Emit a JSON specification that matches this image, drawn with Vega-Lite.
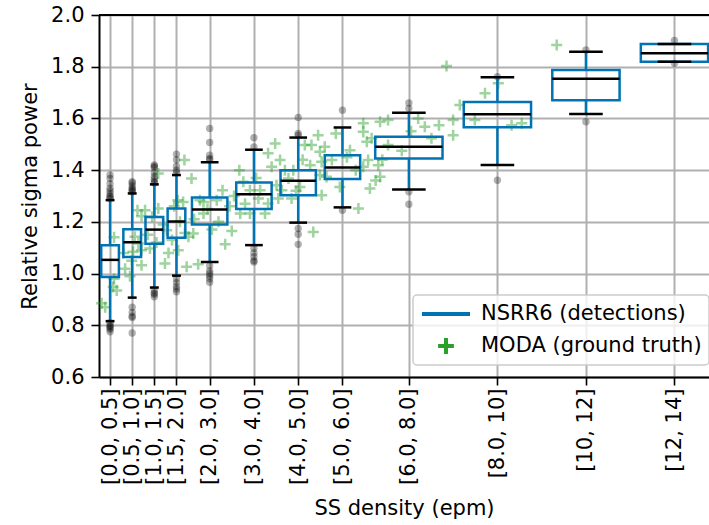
{
  "$schema": "https://vega.github.io/schema/vega-lite/v6.json",
  "width": 610,
  "height": 362,
  "autosize": {"type": "none"},
  "padding": {"left": 99, "top": 15, "right": 0, "bottom": 148},
  "background": "white",
  "config": {
    "font": "DejaVu Sans",
    "view": {"stroke": null},
    "axis": {
      "labelFont": "DejaVu Sans", "titleFont": "DejaVu Sans",
      "labelFontSize": 21, "titleFontSize": 21, "titleFontWeight": "normal",
      "labelColor": "black", "titleColor": "black",
      "domainColor": "black", "domainWidth": 2,
      "tickColor": "black", "tickWidth": 1.6, "tickSize": 8,
      "gridColor": "#b0b0b0", "gridWidth": 2, "gridOpacity": 1,
      "labelPadding": 6
    },
    "legend": {
      "orient": "none", "legendX": 314, "legendY": 280,
      "padding": 7, "fillColor": "rgba(255,255,255,0.8)", "strokeColor": "#cccccc",
      "strokeWidth": 1.5, "cornerRadius": 4,
      "labelFont": "DejaVu Sans", "labelFontSize": 21, "labelColor": "black", "labelLimit": 0,
      "symbolSize": 2304, "symbolStrokeWidth": 4, "symbolOpacity": 1,
      "clipHeight": 24, "rowPadding": 8, "labelOffset": 9
    }
  },
  "datasets": {
    "boxes": [
      {"bin": "[0.0, 0.5]", "density": 0.25, "binwidth": 0.5, "lo": 0.816, "q1": 0.987, "med": 1.053, "q3": 1.110, "hi": 1.284},
      {"bin": "[0.5, 1.0]", "density": 0.75, "binwidth": 0.5, "lo": 0.907, "q1": 1.064, "med": 1.121, "q3": 1.171, "hi": 1.310},
      {"bin": "[1.0, 1.5]", "density": 1.25, "binwidth": 0.5, "lo": 0.946, "q1": 1.115, "med": 1.170, "q3": 1.219, "hi": 1.345},
      {"bin": "[1.5, 2.0]", "density": 1.75, "binwidth": 0.5, "lo": 0.992, "q1": 1.139, "med": 1.201, "q3": 1.252, "hi": 1.381},
      {"bin": "[2.0, 3.0]", "density": 2.5, "binwidth": 1, "lo": 1.045, "q1": 1.190, "med": 1.248, "q3": 1.294, "hi": 1.431},
      {"bin": "[3.0, 4.0]", "density": 3.5, "binwidth": 1, "lo": 1.110, "q1": 1.250, "med": 1.307, "q3": 1.352, "hi": 1.479},
      {"bin": "[4.0, 5.0]", "density": 4.5, "binwidth": 1, "lo": 1.197, "q1": 1.303, "med": 1.359, "q3": 1.400, "hi": 1.526},
      {"bin": "[5.0, 6.0]", "density": 5.5, "binwidth": 1, "lo": 1.256, "q1": 1.366, "med": 1.410, "q3": 1.458, "hi": 1.565},
      {"bin": "[6.0, 8.0]", "density": 7, "binwidth": 2, "lo": 1.325, "q1": 1.445, "med": 1.490, "q3": 1.529, "hi": 1.622},
      {"bin": "[8.0, 10]", "density": 9, "binwidth": 2, "lo": 1.420, "q1": 1.566, "med": 1.616, "q3": 1.664, "hi": 1.759},
      {"bin": "[10, 12]", "density": 11, "binwidth": 2, "lo": 1.617, "q1": 1.670, "med": 1.753, "q3": 1.787, "hi": 1.858},
      {"bin": "[12, 14]", "density": 13, "binwidth": 2, "lo": 1.819, "q1": 1.819, "med": 1.852, "q3": 1.888, "hi": 1.888}
    ],
    "outliers": [
      {"density": 0.25, "power": 1.381}, {"density": 0.25, "power": 1.368}, {"density": 0.25, "power": 1.348}, {"density": 0.25, "power": 1.33}, {"density": 0.25, "power": 1.32}, {"density": 0.25, "power": 1.31}, {"density": 0.25, "power": 1.30}, {"density": 0.25, "power": 1.295}, {"density": 0.25, "power": 1.29},
      {"density": 0.25, "power": 0.81}, {"density": 0.25, "power": 0.80}, {"density": 0.25, "power": 0.795}, {"density": 0.25, "power": 0.79}, {"density": 0.25, "power": 0.785}, {"density": 0.25, "power": 0.775},
      {"density": 0.75, "power": 1.355}, {"density": 0.75, "power": 1.35}, {"density": 0.75, "power": 1.34}, {"density": 0.75, "power": 1.33}, {"density": 0.75, "power": 1.325}, {"density": 0.75, "power": 1.32}, {"density": 0.75, "power": 1.315},
      {"density": 0.75, "power": 0.87}, {"density": 0.75, "power": 0.85}, {"density": 0.75, "power": 0.835}, {"density": 0.75, "power": 0.83}, {"density": 0.75, "power": 0.77},
      {"density": 1.25, "power": 1.42}, {"density": 1.25, "power": 1.415}, {"density": 1.25, "power": 1.41}, {"density": 1.25, "power": 1.39}, {"density": 1.25, "power": 1.375}, {"density": 1.25, "power": 1.365}, {"density": 1.25, "power": 1.355}, {"density": 1.25, "power": 1.35},
      {"density": 1.25, "power": 0.935}, {"density": 1.25, "power": 0.925}, {"density": 1.25, "power": 0.92}, {"density": 1.25, "power": 0.91},
      {"density": 1.75, "power": 1.462}, {"density": 1.75, "power": 1.44}, {"density": 1.75, "power": 1.415}, {"density": 1.75, "power": 1.40}, {"density": 1.75, "power": 1.39},
      {"density": 1.75, "power": 0.98}, {"density": 1.75, "power": 0.965}, {"density": 1.75, "power": 0.95}, {"density": 1.75, "power": 0.94}, {"density": 1.75, "power": 0.93},
      {"density": 2.5, "power": 1.561}, {"density": 2.5, "power": 1.507}, {"density": 2.5, "power": 1.458}, {"density": 2.5, "power": 1.445}, {"density": 2.5, "power": 1.44},
      {"density": 2.5, "power": 1.03}, {"density": 2.5, "power": 1.01}, {"density": 2.5, "power": 1.0}, {"density": 2.5, "power": 0.99}, {"density": 2.5, "power": 0.98}, {"density": 2.5, "power": 0.966},
      {"density": 3.5, "power": 1.525}, {"density": 3.5, "power": 1.49},
      {"density": 3.5, "power": 1.098}, {"density": 3.5, "power": 1.08}, {"density": 3.5, "power": 1.065}, {"density": 3.5, "power": 1.05}, {"density": 3.5, "power": 1.045},
      {"density": 4.5, "power": 1.604}, {"density": 4.5, "power": 1.542}, {"density": 4.5, "power": 1.535},
      {"density": 4.5, "power": 1.174}, {"density": 4.5, "power": 1.152}, {"density": 4.5, "power": 1.113},
      {"density": 5.5, "power": 1.632}, {"density": 5.5, "power": 1.245},
      {"density": 7, "power": 1.66}, {"density": 7, "power": 1.639}, {"density": 7, "power": 1.316}, {"density": 7, "power": 1.268},
      {"density": 9, "power": 1.761}, {"density": 9, "power": 1.361},
      {"density": 11, "power": 1.865}, {"density": 11, "power": 1.587},
      {"density": 13, "power": 1.902}, {"density": 13, "power": 1.813}
    ],
    "moda": [
      {"density": 0.06, "power": 0.885, "series": "MODA (ground truth)"},
      {"density": 0.14, "power": 0.87, "series": "MODA (ground truth)"},
      {"density": 0.32, "power": 0.948, "series": "MODA (ground truth)"},
      {"density": 0.34, "power": 0.98, "series": "MODA (ground truth)"},
      {"density": 0.34, "power": 1.14, "series": "MODA (ground truth)"},
      {"density": 0.40, "power": 0.935, "series": "MODA (ground truth)"},
      {"density": 0.55, "power": 1.08, "series": "MODA (ground truth)"},
      {"density": 0.59, "power": 1.019, "series": "MODA (ground truth)"},
      {"density": 0.70, "power": 0.99, "series": "MODA (ground truth)"},
      {"density": 0.74, "power": 1.05, "series": "MODA (ground truth)"},
      {"density": 0.77, "power": 1.084, "series": "MODA (ground truth)"},
      {"density": 0.81, "power": 1.142, "series": "MODA (ground truth)"},
      {"density": 0.87, "power": 1.245, "series": "MODA (ground truth)"},
      {"density": 0.89, "power": 1.116, "series": "MODA (ground truth)"},
      {"density": 0.96, "power": 1.222, "series": "MODA (ground truth)"},
      {"density": 0.96, "power": 1.09, "series": "MODA (ground truth)"},
      {"density": 0.96, "power": 1.032, "series": "MODA (ground truth)"},
      {"density": 1.04, "power": 1.245, "series": "MODA (ground truth)"},
      {"density": 1.10, "power": 1.15, "series": "MODA (ground truth)"},
      {"density": 1.15, "power": 1.097, "series": "MODA (ground truth)"},
      {"density": 1.20, "power": 1.22, "series": "MODA (ground truth)"},
      {"density": 1.30, "power": 1.12, "series": "MODA (ground truth)"},
      {"density": 1.34, "power": 1.387, "series": "MODA (ground truth)"},
      {"density": 1.34, "power": 1.252, "series": "MODA (ground truth)"},
      {"density": 1.45, "power": 1.19, "series": "MODA (ground truth)"},
      {"density": 1.49, "power": 1.039, "series": "MODA (ground truth)"},
      {"density": 1.53, "power": 1.168, "series": "MODA (ground truth)"},
      {"density": 1.57, "power": 1.08, "series": "MODA (ground truth)"},
      {"density": 1.65, "power": 1.13, "series": "MODA (ground truth)"},
      {"density": 1.70, "power": 1.26, "series": "MODA (ground truth)"},
      {"density": 1.78, "power": 1.284, "series": "MODA (ground truth)"},
      {"density": 1.79, "power": 1.09, "series": "MODA (ground truth)"},
      {"density": 1.83, "power": 1.2, "series": "MODA (ground truth)"},
      {"density": 1.90, "power": 1.277, "series": "MODA (ground truth)"},
      {"density": 1.93, "power": 1.439, "series": "MODA (ground truth)"},
      {"density": 1.94, "power": 1.157, "series": "MODA (ground truth)"},
      {"density": 1.98, "power": 1.026, "series": "MODA (ground truth)"},
      {"density": 2.02, "power": 1.142, "series": "MODA (ground truth)"},
      {"density": 2.09, "power": 1.368, "series": "MODA (ground truth)"},
      {"density": 2.13, "power": 1.155, "series": "MODA (ground truth)"},
      {"density": 2.15, "power": 1.21, "series": "MODA (ground truth)"},
      {"density": 2.24, "power": 1.036, "series": "MODA (ground truth)"},
      {"density": 2.28, "power": 1.284, "series": "MODA (ground truth)"},
      {"density": 2.36, "power": 1.232, "series": "MODA (ground truth)"},
      {"density": 2.36, "power": 1.277, "series": "MODA (ground truth)"},
      {"density": 2.45, "power": 1.25, "series": "MODA (ground truth)"},
      {"density": 2.55, "power": 1.17, "series": "MODA (ground truth)"},
      {"density": 2.66, "power": 1.284, "series": "MODA (ground truth)"},
      {"density": 2.70, "power": 1.2, "series": "MODA (ground truth)"},
      {"density": 2.79, "power": 1.322, "series": "MODA (ground truth)"},
      {"density": 2.85, "power": 1.113, "series": "MODA (ground truth)"},
      {"density": 2.95, "power": 1.26, "series": "MODA (ground truth)"},
      {"density": 3.00, "power": 1.165, "series": "MODA (ground truth)"},
      {"density": 3.05, "power": 1.3, "series": "MODA (ground truth)"},
      {"density": 3.17, "power": 1.4, "series": "MODA (ground truth)"},
      {"density": 3.19, "power": 1.232, "series": "MODA (ground truth)"},
      {"density": 3.26, "power": 1.355, "series": "MODA (ground truth)"},
      {"density": 3.30, "power": 1.27, "series": "MODA (ground truth)"},
      {"density": 3.41, "power": 1.322, "series": "MODA (ground truth)"},
      {"density": 3.41, "power": 1.232, "series": "MODA (ground truth)"},
      {"density": 3.55, "power": 1.37, "series": "MODA (ground truth)"},
      {"density": 3.60, "power": 1.29, "series": "MODA (ground truth)"},
      {"density": 3.64, "power": 1.322, "series": "MODA (ground truth)"},
      {"density": 3.75, "power": 1.232, "series": "MODA (ground truth)"},
      {"density": 3.82, "power": 1.465, "series": "MODA (ground truth)"},
      {"density": 3.82, "power": 1.271, "series": "MODA (ground truth)"},
      {"density": 3.90, "power": 1.413, "series": "MODA (ground truth)"},
      {"density": 3.98, "power": 1.503, "series": "MODA (ground truth)"},
      {"density": 4.01, "power": 1.342, "series": "MODA (ground truth)"},
      {"density": 4.05, "power": 1.29, "series": "MODA (ground truth)"},
      {"density": 4.09, "power": 1.439, "series": "MODA (ground truth)"},
      {"density": 4.13, "power": 1.322, "series": "MODA (ground truth)"},
      {"density": 4.20, "power": 1.4, "series": "MODA (ground truth)"},
      {"density": 4.28, "power": 1.368, "series": "MODA (ground truth)"},
      {"density": 4.35, "power": 1.29, "series": "MODA (ground truth)"},
      {"density": 4.39, "power": 1.4, "series": "MODA (ground truth)"},
      {"density": 4.45, "power": 1.32, "series": "MODA (ground truth)"},
      {"density": 4.54, "power": 1.335, "series": "MODA (ground truth)"},
      {"density": 4.60, "power": 1.44, "series": "MODA (ground truth)"},
      {"density": 4.65, "power": 1.497, "series": "MODA (ground truth)"},
      {"density": 4.77, "power": 1.419, "series": "MODA (ground truth)"},
      {"density": 4.80, "power": 1.497, "series": "MODA (ground truth)"},
      {"density": 4.84, "power": 1.161, "series": "MODA (ground truth)"},
      {"density": 4.95, "power": 1.535, "series": "MODA (ground truth)"},
      {"density": 4.99, "power": 1.471, "series": "MODA (ground truth)"},
      {"density": 4.99, "power": 1.381, "series": "MODA (ground truth)"},
      {"density": 5.03, "power": 1.303, "series": "MODA (ground truth)"},
      {"density": 5.03, "power": 1.432, "series": "MODA (ground truth)"},
      {"density": 5.10, "power": 1.49, "series": "MODA (ground truth)"},
      {"density": 5.14, "power": 1.374, "series": "MODA (ground truth)"},
      {"density": 5.26, "power": 1.439, "series": "MODA (ground truth)"},
      {"density": 5.35, "power": 1.542, "series": "MODA (ground truth)"},
      {"density": 5.44, "power": 1.335, "series": "MODA (ground truth)"},
      {"density": 5.60, "power": 1.45, "series": "MODA (ground truth)"},
      {"density": 5.67, "power": 1.477, "series": "MODA (ground truth)"},
      {"density": 5.80, "power": 1.4, "series": "MODA (ground truth)"},
      {"density": 5.86, "power": 1.252, "series": "MODA (ground truth)"},
      {"density": 5.97, "power": 1.581, "series": "MODA (ground truth)"},
      {"density": 5.97, "power": 1.548, "series": "MODA (ground truth)"},
      {"density": 5.97, "power": 1.413, "series": "MODA (ground truth)"},
      {"density": 6.05, "power": 1.51, "series": "MODA (ground truth)"},
      {"density": 6.08, "power": 1.439, "series": "MODA (ground truth)"},
      {"density": 6.12, "power": 1.329, "series": "MODA (ground truth)"},
      {"density": 6.16, "power": 1.523, "series": "MODA (ground truth)"},
      {"density": 6.25, "power": 1.36, "series": "MODA (ground truth)"},
      {"density": 6.31, "power": 1.419, "series": "MODA (ground truth)"},
      {"density": 6.35, "power": 1.374, "series": "MODA (ground truth)"},
      {"density": 6.35, "power": 1.587, "series": "MODA (ground truth)"},
      {"density": 6.40, "power": 1.44, "series": "MODA (ground truth)"},
      {"density": 6.53, "power": 1.594, "series": "MODA (ground truth)"},
      {"density": 6.53, "power": 1.497, "series": "MODA (ground truth)"},
      {"density": 6.84, "power": 1.475, "series": "MODA (ground truth)"},
      {"density": 7.05, "power": 1.55, "series": "MODA (ground truth)"},
      {"density": 7.21, "power": 1.6, "series": "MODA (ground truth)"},
      {"density": 7.36, "power": 1.568, "series": "MODA (ground truth)"},
      {"density": 7.51, "power": 1.523, "series": "MODA (ground truth)"},
      {"density": 7.68, "power": 1.574, "series": "MODA (ground truth)"},
      {"density": 7.85, "power": 1.803, "series": "MODA (ground truth)"},
      {"density": 8.00, "power": 1.594, "series": "MODA (ground truth)"},
      {"density": 8.00, "power": 1.535, "series": "MODA (ground truth)"},
      {"density": 8.15, "power": 1.652, "series": "MODA (ground truth)"},
      {"density": 8.49, "power": 1.594, "series": "MODA (ground truth)"},
      {"density": 8.72, "power": 1.697, "series": "MODA (ground truth)"},
      {"density": 9.02, "power": 1.736, "series": "MODA (ground truth)"},
      {"density": 9.32, "power": 1.574, "series": "MODA (ground truth)"},
      {"density": 9.55, "power": 1.581, "series": "MODA (ground truth)"},
      {"density": 10.34, "power": 1.884, "series": "MODA (ground truth)"}
    ]
  },
  "layer": [
    {
      "data": {"name": "moda"},
      "mark": {"type": "point", "filled": false, "strokeWidth": 2.5, "opacity": 0.45, "size": 1115},
      "encoding": {
        "x": {
          "field": "density", "type": "quantitative", "title": "SS density (epm)",
          "scale": {"domain": [0, 13.78], "nice": false, "zero": false, "padding": 0},
          "axis": {
            "values": [0.25, 0.75, 1.25, 1.75, 2.5, 3.5, 4.5, 5.5, 7, 9, 11, 13],
            "labelAngle": -90, "labelFlush": false, "labelOverlap": false, "labelBound": false,
            "labelPadding": 3, "titlePadding": 13, "grid": true,
            "labelExpr": "datum.value == 0.25 ? '[0.0, 0.5]' : datum.value == 0.75 ? '[0.5, 1.0]' : datum.value == 1.25 ? '[1.0, 1.5]' : datum.value == 1.75 ? '[1.5, 2.0]' : datum.value == 2.5 ? '[2.0, 3.0]' : datum.value == 3.5 ? '[3.0, 4.0]' : datum.value == 4.5 ? '[4.0, 5.0]' : datum.value == 5.5 ? '[5.0, 6.0]' : datum.value == 7 ? '[6.0, 8.0]' : datum.value == 9 ? '[8.0, 10]' : datum.value == 11 ? '[10, 12]' : '[12, 14]'"
          }
        },
        "y": {
          "field": "power", "type": "quantitative", "title": "Relative sigma power",
          "scale": {"domain": [0.6, 2.0], "nice": false, "zero": false, "padding": 0},
          "axis": {
            "values": [0.6, 0.8, 1.0, 1.2, 1.4, 1.6, 1.8, 2.0], "format": ".1f",
            "labelFlush": false, "labelOverlap": false, "labelPadding": 7, "titlePadding": 10, "grid": true
          }
        },
        "color": {
          "field": "series", "type": "nominal",
          "scale": {"domain": ["NSRR6 (detections)", "MODA (ground truth)"], "range": ["#0173b2", "#2ca02c"]},
          "legend": {"title": null}
        },
        "shape": {
          "field": "series", "type": "nominal",
          "scale": {"domain": ["NSRR6 (detections)", "MODA (ground truth)"], "range": ["M-1,0H1", "M-0.33,0H0.33M0,-0.33V0.33"]},
          "legend": {"title": null}
        }
      }
    },
    {
      "data": {"name": "outliers"},
      "mark": {"type": "point", "filled": true, "color": "black", "opacity": 0.3, "size": 55, "shape": "circle"},
      "encoding": {
        "x": {"field": "density", "type": "quantitative"},
        "y": {"field": "power", "type": "quantitative"}
      }
    },
    {
      "data": {"name": "boxes"},
      "mark": {"type": "rule", "color": "#0173b2", "strokeWidth": 2.5},
      "encoding": {
        "x": {"field": "density", "type": "quantitative"},
        "y": {"field": "lo", "type": "quantitative"},
        "y2": {"field": "q1"}
      }
    },
    {
      "data": {"name": "boxes"},
      "mark": {"type": "rule", "color": "#0173b2", "strokeWidth": 2.5},
      "encoding": {
        "x": {"field": "density", "type": "quantitative"},
        "y": {"field": "q3", "type": "quantitative"},
        "y2": {"field": "hi"}
      }
    },
    {
      "data": {"name": "boxes"},
      "transform": [{"filter": "datum.binwidth == 0.5"}],
      "mark": {"type": "bar", "fill": "transparent", "stroke": "#0173b2", "strokeWidth": 2.5, "width": 17.7},
      "encoding": {
        "x": {"field": "density", "type": "quantitative"},
        "y": {"field": "q1", "type": "quantitative"},
        "y2": {"field": "q3"}
      }
    },
    {
      "data": {"name": "boxes"},
      "transform": [{"filter": "datum.binwidth == 1"}],
      "mark": {"type": "bar", "fill": "transparent", "stroke": "#0173b2", "strokeWidth": 2.5, "width": 35.4},
      "encoding": {
        "x": {"field": "density", "type": "quantitative"},
        "y": {"field": "q1", "type": "quantitative"},
        "y2": {"field": "q3"}
      }
    },
    {
      "data": {"name": "boxes"},
      "transform": [{"filter": "datum.binwidth == 2"}],
      "mark": {"type": "bar", "fill": "transparent", "stroke": "#0173b2", "strokeWidth": 2.5, "width": 67.3},
      "encoding": {
        "x": {"field": "density", "type": "quantitative"},
        "y": {"field": "q1", "type": "quantitative"},
        "y2": {"field": "q3"}
      }
    },
    {
      "data": {"name": "boxes"},
      "transform": [{"filter": "datum.binwidth == 0.5"}, {"fold": ["lo", "hi"], "as": ["stat", "level"]}],
      "mark": {"type": "tick", "orient": "horizontal", "color": "black", "thickness": 2.5, "opacity": 1, "size": 8.9},
      "encoding": {
        "x": {"field": "density", "type": "quantitative"},
        "y": {"field": "level", "type": "quantitative"}
      }
    },
    {
      "data": {"name": "boxes"},
      "transform": [{"filter": "datum.binwidth == 1"}, {"fold": ["lo", "hi"], "as": ["stat", "level"]}],
      "mark": {"type": "tick", "orient": "horizontal", "color": "black", "thickness": 2.5, "opacity": 1, "size": 17.7},
      "encoding": {
        "x": {"field": "density", "type": "quantitative"},
        "y": {"field": "level", "type": "quantitative"}
      }
    },
    {
      "data": {"name": "boxes"},
      "transform": [{"filter": "datum.binwidth == 2"}, {"fold": ["lo", "hi"], "as": ["stat", "level"]}],
      "mark": {"type": "tick", "orient": "horizontal", "color": "black", "thickness": 2.5, "opacity": 1, "size": 33.6},
      "encoding": {
        "x": {"field": "density", "type": "quantitative"},
        "y": {"field": "level", "type": "quantitative"}
      }
    },
    {
      "data": {"name": "boxes"},
      "transform": [{"filter": "datum.binwidth == 0.5"}],
      "mark": {"type": "tick", "orient": "horizontal", "color": "black", "thickness": 2.5, "opacity": 1, "size": 17.7},
      "encoding": {
        "x": {"field": "density", "type": "quantitative"},
        "y": {"field": "med", "type": "quantitative"}
      }
    },
    {
      "data": {"name": "boxes"},
      "transform": [{"filter": "datum.binwidth == 1"}],
      "mark": {"type": "tick", "orient": "horizontal", "color": "black", "thickness": 2.5, "opacity": 1, "size": 35.4},
      "encoding": {
        "x": {"field": "density", "type": "quantitative"},
        "y": {"field": "med", "type": "quantitative"}
      }
    },
    {
      "data": {"name": "boxes"},
      "transform": [{"filter": "datum.binwidth == 2"}],
      "mark": {"type": "tick", "orient": "horizontal", "color": "black", "thickness": 2.5, "opacity": 1, "size": 67.3},
      "encoding": {
        "x": {"field": "density", "type": "quantitative"},
        "y": {"field": "med", "type": "quantitative"}
      }
    },
    {
      "data": {"values": [{"edge": 2.0}]},
      "mark": {"type": "rule", "color": "black", "strokeWidth": 2},
      "encoding": {"y": {"field": "edge", "type": "quantitative"}}
    }
  ]
}
